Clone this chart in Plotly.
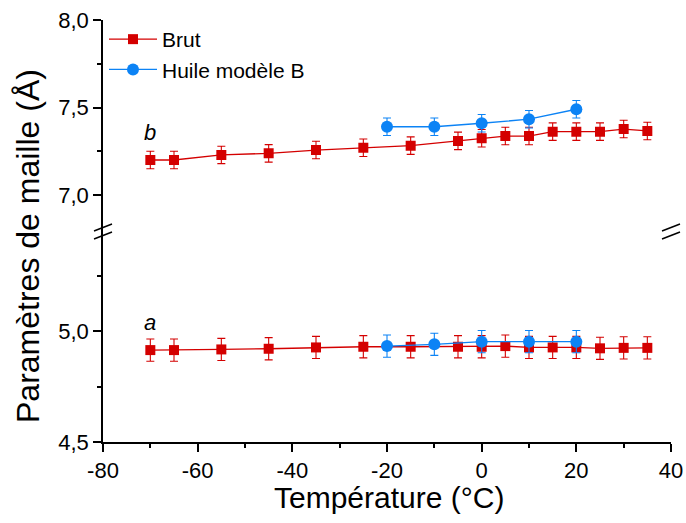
import plotly.graph_objects as go

# ---- data ----
temp_brut = [-70, -65, -55, -45, -35, -25, -15, -5, 0, 5, 10, 15, 20, 25, 30, 35]
b_brut = [7.200, 7.200, 7.229, 7.238, 7.257, 7.270, 7.282, 7.309, 7.324, 7.337, 7.337, 7.362, 7.362, 7.362, 7.377, 7.366]
a_brut = [4.914, 4.914, 4.917, 4.920, 4.926, 4.929, 4.929, 4.929, 4.929, 4.932, 4.926, 4.926, 4.926, 4.922, 4.924, 4.924]
err_brut = [0.05] * len(temp_brut)

temp_huile = [-20, -10, 0, 10, 20]
b_huile = [7.390, 7.390, 7.410, 7.433, 7.490]
a_huile = [4.932, 4.940, 4.952, 4.952, 4.952]
err_huile = [0.05] * len(temp_huile)

x_ticks = [-80, -60, -40, -20, 0, 20, 40]
x_ticklabels = ["-80", "-60", "-40", "-20", "0", "20", "40"]

RED = "#d40000"
BLUE = "#0c83f5"
FONT = "Arial, Liberation Sans, sans-serif"

# plot-area geometry (pixels) for helper conversions
L, R, T, B = 103, 671, 20, 442
W, H = R - L, B - T
def px(xp):
    return (xp - L) / W
def py(yp):
    return (B - yp) / H

fig = go.Figure()

def add_series(x, y, err, color, symbol, size, name, yaxis, showlegend):
    fig.add_trace(go.Scatter(
        x=x, y=y, mode="lines+markers", name=name, legendgroup=name,
        showlegend=showlegend, xaxis="x", yaxis=yaxis,
        line=dict(color=color, width=1.3),
        marker=dict(symbol=symbol, size=size, color=color),
        error_y=dict(type="data", array=err, visible=True, color=color,
                     thickness=1.1, width=4),
    ))

add_series(temp_brut, b_brut, err_brut, RED, "square", 10, "Brut", "y", True)
add_series(temp_brut, a_brut, err_brut, RED, "square", 10, "Brut", "y2", False)
add_series(temp_huile, b_huile, err_huile, BLUE, "circle", 12, "Huile modèle B", "y", True)
add_series(temp_huile, a_huile, err_huile, BLUE, "circle", 12, "Huile modèle B", "y2", False)

axis_common = dict(showline=True, linecolor="black", linewidth=1.5, showgrid=False,
                   zeroline=False, tickcolor="black", tickwidth=1.5, automargin=False,
                   tickfont=dict(family=FONT, size=22, color="black"))

top_split = py(231.5)
top_range = [8.0 - (231.5 - 20) / 175.0, 8.0]
bot_range = [4.5, 5.0 + (331 - 231.5) / 222.0]

fig.update_layout(
    width=686, height=523,
    margin=dict(l=L, r=686 - R, t=T, b=523 - B, pad=0, autoexpand=False),
    paper_bgcolor="white", plot_bgcolor="white",
    separators=",.",
    font=dict(family=FONT, color="black"),
    xaxis=dict(axis_common, domain=[0, 1], anchor="y2", range=[-80, 40],
               tickmode="array", tickvals=x_ticks, ticktext=x_ticklabels,
               ticks="outside", ticklen=8,
               minor=dict(dtick=10, tick0=0, ticks="outside", ticklen=4,
                          tickcolor="black", tickwidth=1.5)),
    xaxis2=dict(axis_common, overlaying="x", matches="x", anchor="y", side="top",
                range=[-80, 40], tickvals=x_ticks, ticks="inside", ticklen=8,
                showticklabels=False,
                minor=dict(dtick=10, tick0=0, ticks="inside", ticklen=4,
                           tickcolor="black", tickwidth=1.5)),
    yaxis=dict(axis_common, domain=[top_split, 1], anchor="x", range=top_range,
               dtick=0.5, tick0=0, tickformat=".1f", ticks="outside", ticklen=8,
               minor=dict(dtick=0.25, tick0=0, ticks="outside", ticklen=4,
                          tickcolor="black", tickwidth=1.5)),
    yaxis2=dict(axis_common, domain=[0, top_split], anchor="x", range=bot_range,
                dtick=0.5, tick0=0, tickformat=".1f", ticks="outside", ticklen=8,
                minor=dict(dtick=0.25, tick0=0, ticks="outside", ticklen=4,
                           tickcolor="black", tickwidth=1.5)),
    yaxis3=dict(axis_common, overlaying="y", matches="y", anchor="x", side="right",
                range=top_range, dtick=0.5, tick0=0, ticks="inside", ticklen=8,
                showticklabels=False,
                minor=dict(dtick=0.25, tick0=0, ticks="inside", ticklen=5,
                           tickcolor="black", tickwidth=1.5)),
    yaxis4=dict(axis_common, overlaying="y2", matches="y2", anchor="x", side="right",
                range=bot_range, dtick=0.5, tick0=0, ticks="inside", ticklen=8,
                showticklabels=False,
                minor=dict(dtick=0.25, tick0=0, ticks="inside", ticklen=5,
                           tickcolor="black", tickwidth=1.5)),
    legend=dict(x=px(104), y=py(19), xanchor="left", yanchor="top",
                bgcolor="rgba(0,0,0,0)", borderwidth=0,
                font=dict(family=FONT, size=21, color="black"),
                tracegroupgap=0, itemwidth=48),
    showlegend=True,
)

# axis titles
fig.add_annotation(text="Température (°C)", xref="paper", yref="paper",
                   x=px(389), y=py(497), xanchor="center", yanchor="middle",
                   showarrow=False, font=dict(family=FONT, size=30, color="black"))
fig.add_annotation(text="Paramètres de maille (Å)", xref="paper", yref="paper",
                   x=px(28), y=py(246), xanchor="center", yanchor="middle",
                   textangle=-90, showarrow=False,
                   font=dict(family=FONT, size=32, color="black"))

# panel labels
fig.add_annotation(text="<i>b</i>", xref="x", yref="y", x=-70, y=7.355,
                   showarrow=False, font=dict(family=FONT, size=22, color="black"))
fig.add_annotation(text="<i>a</i>", xref="x", yref="y2", x=-70, y=5.04,
                   showarrow=False, font=dict(family=FONT, size=22, color="black"))

# axis break marks
for xc in (L, R):
    for dy in (0.0, 8.0):
        fig.add_shape(type="line", xref="paper", yref="paper",
                      x0=px(xc - 9), y0=py(231 + dy),
                      x1=px(xc + 9), y1=py(224 + dy),
                      line=dict(color="black", width=1.5))

fig.write_html("out.html", config={"displayModeBar": False},
               post_script="document.body.style.margin='0';document.body.style.overflow='hidden';")
